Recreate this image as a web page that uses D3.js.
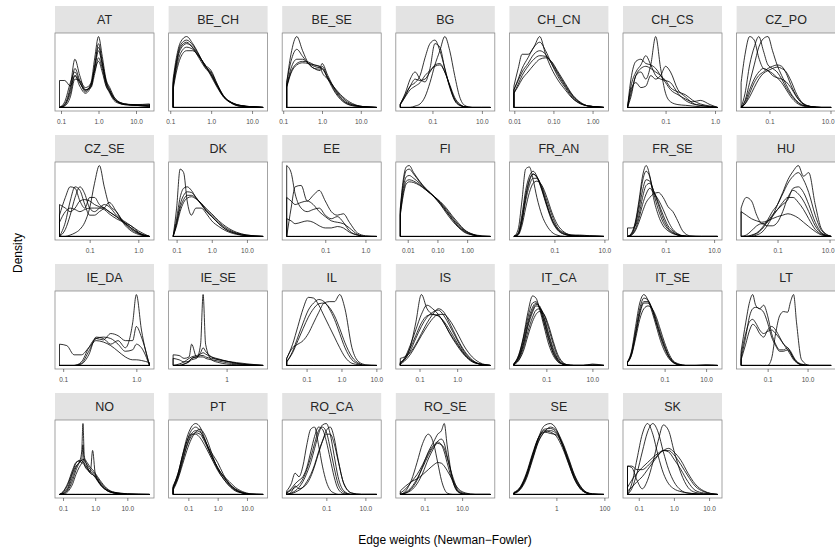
<!DOCTYPE html>
<html>
<head>
<meta charset="utf-8">
<script src="https://cdn.jsdelivr.net/npm/d3@7"></script>
<style>
  body { margin: 0; background: #fff; }
  text { font-family: "Liberation Sans", Arial, sans-serif; }
</style>
</head>
<body>
<div id="chart"></div>
<script>
// facet names, in panel order
const panelNames = ['AT','BE_CH','BE_SE','BG','CH_CN','CH_CS','CZ_PO',
  'CZ_SE','DK','EE','FI','FR_AN','FR_SE','HU',
  'IE_DA','IE_SE','IL','IS','IT_CA','IT_SE','LT',
  'NO','PT','RO_CA','RO_SE','SE','SK'];

// data range of each panel, log10 of the edge weight
const xLimits = [[-1.04,1.36],[-0.93,1.27],[-0.91,1.41],[-2.3,1.34],[-2.01,0.29],[-1.77,0.05],[-1.93,1.02],
  [-1.62,0.23],[-1.1,1.46],[-1.96,0.28],[-2.25,0.78],[-2.62,0.98],[-2.57,1.14],[-2.4,1.06],
  [-1.05,0.18],[-1.07,0.73],[-1.57,1.01],[-1.51,0.88],[-2.41,1.5],[-2.79,1.55],[-2.33,2.18],
  [-1.11,1.69],[-1.52,1.55],[-3.03,1.58],[-2.29,2.5],[-1.77,1.98],[-1.32,1.24]];

// axis ticks (log10) and their labels
const tickValues = [[-1,0,1],[-1,0,1],[-1,0,1],[-1,1],[-2,-1,0],[-1,0],[-1,1],
  [-1,0],[-1,0,1],[-1,0],[-2,-1,0],[-1,1],[-1,1],[-1,1],
  [-1,0],[0],[-1,0,1],[-1,0],[-1,1],[-1,1],[-1,1],
  [-1,0,1],[-1,0,1],[-1,1],[-1,1],[0,2],[-1,0,1]];
const tickLabels = [['0.1','1.0','10.0'],['0.1','1.0','10.0'],['0.1','1.0','10.0'],['0.1','10.0'],['0.01','0.10','1.00'],['0.1','1.0'],['0.1','10.0'],
  ['0.1','1.0'],['0.1','1.0','10.0'],['0.1','1.0'],['0.01','0.10','1.00'],['0.1','10.0'],['0.1','10.0'],['0.1','10.0'],
  ['0.1','1.0'],['1'],['0.1','1.0','10.0'],['0.1','1.0'],['0.1','10.0'],['0.1','10.0'],['0.1','10.0'],
  ['0.1','1.0','10.0'],['0.1','1.0','10.0'],['0.1','10.0'],['0.1','10.0'],['1','100'],['0.1','1.0','10.0']];

// positions (log10) where the density curves were read
const xGrid = [
  [-1.04,-0.9,-0.75,-0.63,-0.5,-0.35,-0.2,-0.1,0,0.1,0.2,0.3,0.45,0.7,1.0,1.36],
  [-0.93,-0.85,-0.75,-0.6,-0.45,-0.3,-0.15,0,0.15,0.3,0.5,0.7,1.0,1.27],
  [-0.91,-0.8,-0.65,-0.5,-0.35,-0.2,-0.05,0,0.15,0.35,0.6,0.85,1.1,1.41],
  [-2.3,-2.1,-1.9,-1.7,-1.5,-1.3,-1.1,-0.9,-0.7,-0.5,-0.3,-0.1,0.1,0.3,0.6,1.0,1.34],
  [-2.01,-1.9,-1.8,-1.65,-1.5,-1.35,-1.2,-1.05,-0.9,-0.7,-0.5,-0.3,-0.1,0.1,0.29],
  [-1.77,-1.7,-1.6,-1.5,-1.4,-1.3,-1.2,-1.1,-1.0,-0.9,-0.75,-0.6,-0.45,-0.3,-0.1,0.05],
  [-1.93,-1.8,-1.65,-1.5,-1.35,-1.2,-1.05,-0.9,-0.75,-0.6,-0.45,-0.3,-0.1,0.1,0.4,0.7,1.02],
  [-1.62,-1.5,-1.4,-1.3,-1.2,-1.1,-1.0,-0.9,-0.8,-0.7,-0.6,-0.45,-0.3,-0.15,0,0.23],
  [-1.1,-1.0,-0.9,-0.8,-0.7,-0.58,-0.45,-0.3,-0.15,0,0.2,0.4,0.7,1.0,1.46],
  [-1.96,-1.85,-1.75,-1.6,-1.45,-1.3,-1.15,-1.0,-0.85,-0.7,-0.55,-0.4,-0.2,0,0.28],
  [-2.25,-2.15,-2.05,-1.95,-1.8,-1.6,-1.4,-1.25,-1.1,-0.9,-0.7,-0.5,-0.3,-0.1,0.2,0.5,0.78],
  [-2.62,-2.45,-2.3,-2.15,-2.0,-1.85,-1.7,-1.5,-1.3,-1.1,-0.9,-0.6,-0.3,0,0.4,0.98],
  [-2.57,-2.4,-2.25,-2.1,-1.95,-1.8,-1.65,-1.5,-1.3,-1.1,-0.9,-0.7,-0.5,-0.3,0,0.5,1.14],
  [-2.4,-2.2,-2.0,-1.8,-1.6,-1.4,-1.2,-1.0,-0.8,-0.6,-0.4,-0.2,0,0.2,0.45,0.7,1.06],
  [-1.05,-0.95,-0.85,-0.75,-0.65,-0.55,-0.45,-0.35,-0.25,-0.15,-0.05,0,0.07,0.18],
  [-1.07,-0.95,-0.85,-0.75,-0.7,-0.6,-0.52,-0.47,-0.42,-0.3,-0.15,0,0.2,0.45,0.73],
  [-1.57,-1.4,-1.25,-1.1,-0.95,-0.8,-0.65,-0.5,-0.35,-0.2,-0.05,0.1,0.3,0.5,0.7,1.01],
  [-1.51,-1.4,-1.25,-1.1,-0.95,-0.8,-0.65,-0.5,-0.35,-0.2,0,0.2,0.4,0.6,0.88],
  [-2.41,-2.2,-2.0,-1.8,-1.6,-1.45,-1.3,-1.1,-0.9,-0.7,-0.5,-0.3,-0.1,0.2,0.6,1.0,1.5],
  [-2.79,-2.6,-2.4,-2.2,-2.0,-1.8,-1.6,-1.4,-1.2,-1.0,-0.8,-0.6,-0.3,0,0.5,1.0,1.55],
  [-2.33,-2.1,-1.9,-1.75,-1.6,-1.4,-1.2,-1.0,-0.8,-0.6,-0.4,-0.2,0,0.15,0.3,0.45,0.7,1.1,2.18],
  [-1.11,-1.0,-0.85,-0.7,-0.6,-0.5,-0.42,-0.38,-0.34,-0.25,-0.15,-0.08,0,0.15,0.35,0.6,1.0,1.69],
  [-1.52,-1.35,-1.2,-1.05,-0.9,-0.75,-0.6,-0.45,-0.3,-0.15,0,0.2,0.4,0.6,0.85,1.1,1.55],
  [-3.03,-2.8,-2.6,-2.4,-2.2,-2.0,-1.8,-1.6,-1.4,-1.2,-1.0,-0.8,-0.6,-0.4,-0.1,0.3,0.8,1.58],
  [-2.29,-2.0,-1.7,-1.4,-1.1,-0.8,-0.5,-0.3,-0.1,0.05,0.2,0.5,0.8,1.2,1.7,2.5],
  [-1.77,-1.5,-1.25,-1.0,-0.75,-0.5,-0.25,0,0.25,0.5,0.75,1.0,1.25,1.5,1.98],
  [-1.32,-1.2,-1.05,-0.9,-0.75,-0.6,-0.45,-0.3,-0.15,0,0.2,0.4,0.6,0.85,1.24]
];

// density curves per panel, relative height (100 = tallest curve in the panel)
const densities = [
  [[0,3,25,55,38,22,35,70,100,72,40,28,12,4,4,2],[0,5,30,68,45,25,30,60,90,65,38,25,10,4,3,3],[0,8,35,50,35,24,32,55,80,60,35,22,10,5,4,5],
   [38,38,30,45,35,25,28,48,70,55,32,20,8,4,3,1],[0,2,15,40,38,28,34,52,65,50,30,22,10,5,3,4],[0,4,20,45,30,20,30,58,85,62,36,24,12,5,3,2]],
  [[40,70,92,100,90,75,58,48,30,15,6,2,1,0],[35,65,88,95,88,74,58,50,32,16,6,2,1,0],[30,60,82,90,85,73,60,52,33,17,7,3,1,0],
   [28,55,76,85,82,72,60,46,30,16,7,3,1,0],[25,50,70,80,80,72,60,44,28,15,7,3,1,0],[33,62,85,92,84,70,56,46,31,16,6,2,1,0]],
  [[35,75,100,80,62,55,52,55,40,20,6,2,1,0],[35,65,82,72,62,55,54,58,42,22,7,2,1,0],[30,55,68,68,62,58,56,62,45,24,8,3,1,0],
   [30,50,62,65,64,60,57,55,42,25,10,3,1,0],[28,48,60,63,62,60,58,50,40,26,12,4,1,0]],
  [[5,20,40,50,40,36,55,90,85,55,30,10,3,1,0,0,0],[5,18,30,35,45,70,90,95,80,55,28,10,3,1,0,0,0],[0,0,0,2,5,15,35,60,80,100,80,45,15,3,0,0,0],
   [4,15,25,30,35,45,52,58,60,50,30,12,4,1,0,0,0],[4,16,30,40,38,40,50,60,62,50,32,14,5,1,0,0,0]],
  [[30,55,75,75,85,100,75,55,40,25,12,5,2,1,0],[25,40,55,70,85,92,80,62,45,28,13,5,2,1,0],[25,38,50,62,75,80,75,62,48,30,15,6,2,1,0],
   [20,33,45,58,68,73,72,64,50,32,16,6,2,1,0],[20,30,40,50,60,68,70,65,52,34,17,7,2,1,0]],
  [[0,15,45,50,40,60,100,55,20,8,4,3,2,1,0,0],[0,30,50,60,73,60,45,40,38,35,20,10,5,3,1,0],[0,25,35,28,30,45,40,45,58,50,25,15,6,3,1,0],
   [0,40,65,68,62,60,55,45,35,25,18,12,8,10,4,0],[0,20,45,55,58,55,50,45,38,28,22,18,10,5,2,0]],
  [[35,75,100,95,70,55,52,48,42,35,25,15,6,2,0,0,0],[0,20,60,85,100,80,60,55,50,40,28,18,8,3,1,0,0],[0,10,35,60,85,97,100,80,60,45,32,20,9,3,1,0,0],
   [0,5,20,35,45,50,55,58,60,58,48,32,15,5,1,0,0],[0,5,15,28,40,48,52,55,57,55,50,38,18,6,1,0,0],[0,8,25,40,50,55,52,45,42,40,36,28,14,5,1,0,0]],
  [[0,0,2,5,10,20,40,75,100,70,45,35,20,10,4,0],[30,55,70,68,50,40,55,55,45,40,35,28,20,12,5,0],[0,20,50,70,65,45,30,30,35,40,48,35,18,8,3,0],
   [45,40,35,40,50,52,50,45,42,40,35,28,20,12,5,0],[0,10,30,55,70,60,40,35,40,45,42,30,22,15,6,0],[20,35,40,38,35,38,40,40,40,38,32,25,20,15,8,0]],
  [[0,40,95,90,50,30,40,40,32,22,14,8,3,1,0],[0,25,55,68,70,65,55,45,35,28,18,10,4,1,0],[0,20,45,58,63,62,55,46,36,28,18,10,4,1,0],
   [0,18,40,52,58,58,54,46,37,30,20,12,5,2,0],[0,15,35,48,54,56,53,47,39,32,22,14,6,2,0]],
  [[100,90,60,40,35,38,40,30,25,28,20,8,2,0,0],[0,40,70,72,50,58,65,50,35,30,32,20,5,1,0],[55,50,45,48,50,45,35,28,22,20,18,12,3,0,0],
   [25,22,18,20,22,20,15,12,12,14,12,6,2,0,0]],
  [[40,80,98,100,90,78,68,62,55,45,33,22,13,6,2,0,0],[38,75,93,95,88,77,67,61,55,46,35,24,14,7,2,0,0],[35,68,84,86,82,75,67,62,56,47,36,25,15,8,2,0,0],
   [32,62,78,80,78,73,66,61,56,48,38,27,17,9,3,0,0],[30,58,74,77,76,72,66,61,56,49,40,29,19,10,3,1,0]],
  [[0,10,50,95,98,80,55,30,15,6,2,0,0,0,0,0],[0,5,30,65,85,92,85,65,42,22,10,3,1,0,0,0],[0,4,25,58,80,88,84,68,45,25,12,4,1,1,1,0],
   [0,3,20,50,72,82,82,70,50,30,14,5,2,1,0,0],[0,2,15,40,62,75,78,72,55,34,18,6,2,2,1,0],[0,3,22,55,78,88,83,66,44,24,11,3,1,0,0,0]],
  [[0,5,20,50,85,100,85,55,30,15,8,4,2,0,0,0,0],[0,4,18,45,78,92,84,62,38,20,10,5,2,1,0,0,0],[0,3,15,38,65,80,78,65,45,25,12,6,2,1,0,0,0],
   [0,2,8,20,35,48,55,60,62,55,42,35,22,8,1,0,0],[12,12,15,30,55,72,75,65,48,30,15,8,3,1,0,0,0],[0,2,10,25,45,60,68,62,52,38,22,10,4,1,0,0,0]],
  [[40,55,50,30,18,20,28,38,48,55,55,48,38,25,10,3,0],[0,0,2,5,12,22,35,45,60,75,85,90,80,62,30,8,0],[0,0,0,2,6,15,28,45,62,80,92,100,85,90,45,10,0],
   [0,0,1,4,10,20,30,38,45,52,68,70,62,45,20,5,0],[35,30,25,22,20,22,25,28,30,32,30,26,20,14,7,2,0],[0,2,8,15,18,15,15,20,35,55,65,60,50,35,15,4,0]],
  [[30,28,15,15,25,35,33,28,20,12,8,8,7,4],[0,0,0,2,15,40,38,30,35,25,60,100,50,0],[0,0,0,5,25,38,36,45,42,35,35,55,40,0],
   [0,0,0,3,20,38,40,38,30,20,22,30,25,0]],
  [[0,0,2,5,8,10,30,100,30,8,4,2,1,0,0],[15,14,10,12,30,12,18,25,20,12,8,6,3,1,0],[0,2,5,10,12,14,16,18,16,12,9,6,3,1,0],
   [10,8,5,6,10,12,14,14,12,10,8,6,4,2,0],[0,0,2,6,10,12,12,12,10,8,6,4,2,1,0]],
  [[10,30,55,80,96,95,85,70,55,40,25,12,3,1,0,0],[5,20,40,60,78,88,93,90,80,65,45,25,8,2,0,0],[10,25,30,35,45,60,75,88,90,90,100,80,25,5,1,0],
   [5,18,35,52,68,80,87,88,82,70,52,32,12,3,0,0]],
  [[5,8,25,60,100,80,72,70,60,45,28,14,5,2,0],[3,10,28,50,72,85,80,72,60,46,30,15,6,2,0],[2,8,20,38,55,68,75,78,70,56,36,18,7,2,0],
   [10,12,18,30,45,60,72,80,75,60,38,20,8,2,0],[2,6,15,28,42,55,66,72,72,64,46,26,12,4,0],[3,10,24,42,60,70,72,70,62,50,32,16,6,2,0]],
  [[2,15,40,75,98,95,80,55,30,14,5,2,0,0,0,2,0],[2,12,34,62,82,88,82,62,38,18,7,2,0,0,0,0,0],[2,10,28,55,75,84,82,68,45,24,9,3,1,0,0,0,0],
   [2,8,24,48,68,78,80,72,52,30,12,4,1,0,0,1,0],[3,14,38,68,88,90,82,60,36,17,6,2,0,0,0,0,0],[1,7,20,42,62,72,76,72,56,34,15,5,1,0,0,0,0],
   [2,11,30,58,78,86,84,66,42,21,8,2,0,0,0,0,0]],
  [[5,20,55,88,100,92,75,55,35,20,10,4,1,0,0,0,0],[5,18,48,80,95,92,80,60,40,24,12,5,1,0,0,0,0],[4,15,42,72,88,88,80,64,45,28,14,6,1,0,0,0,0],
   [4,14,38,65,80,84,80,68,50,32,17,7,2,0,0,1,0],[5,16,45,75,90,90,78,60,42,26,13,5,1,0,0,0,0]],
  [[20,60,90,100,85,80,85,70,45,30,22,22,25,18,10,5,1,0,0],[10,40,70,80,82,80,75,60,40,28,20,20,22,18,10,5,1,0,0],[15,45,62,65,60,50,45,48,50,45,38,30,25,20,12,6,2,0,0],
   [8,30,50,58,55,45,40,50,55,50,40,30,22,15,8,4,1,0,0],[0,0,0,0,0,0,0,0,10,45,70,76,75,90,100,60,8,0,0]],
  [[0,2,10,30,40,45,60,100,55,40,30,28,25,15,6,2,0,0],[0,1,8,25,38,45,48,70,42,35,32,62,30,15,6,2,0,0],[0,3,14,32,44,48,48,46,44,38,32,30,26,16,7,2,0,0],
   [0,1,6,20,34,44,48,50,48,42,35,32,28,18,8,3,1,0],[0,4,16,35,45,47,45,44,42,36,30,28,24,14,6,2,0,0],[0,0,4,15,28,38,44,48,50,45,38,35,30,20,9,3,1,0]],
  [[10,30,55,80,95,100,95,80,62,50,38,25,14,7,2,0,0],[10,28,52,75,90,95,90,78,65,55,45,28,15,7,2,0,0],[8,26,48,70,85,90,88,78,64,50,38,25,15,8,3,1,0],
   [8,24,46,68,82,87,85,75,62,48,36,26,18,10,4,1,0],[12,30,55,75,85,85,80,70,58,46,34,22,12,6,2,0,0],[6,22,42,62,78,88,92,85,70,52,36,22,12,5,2,0,0]],
  [[5,15,30,25,40,70,92,95,70,40,18,6,2,0,0,0,0,0],[3,8,15,20,25,38,60,82,95,92,75,50,25,8,1,0,0,0],[0,2,5,10,18,30,45,65,85,98,100,85,55,25,5,0,0,0],
   [0,1,3,6,10,18,28,42,60,75,85,85,72,48,15,2,0,0],[2,6,10,14,22,35,52,72,90,95,88,65,38,15,3,0,0,0],[0,3,12,8,10,15,25,40,58,75,90,95,80,50,15,2,0,0]],
  [[0,5,20,45,72,85,70,45,20,8,2,0,0,0,0,0],[0,2,8,20,40,60,75,85,90,100,70,20,3,0,0,0],[2,8,18,28,42,58,70,74,70,60,45,18,4,0,0,0],
   [0,3,10,22,38,55,68,72,70,65,52,25,6,1,0,0],[5,12,18,22,28,35,42,45,44,40,34,20,8,2,0,0],[0,2,6,15,30,50,66,75,78,72,55,22,4,0,0,0]],
  [[2,10,28,55,80,97,100,92,70,45,22,8,2,0,0],[2,9,26,52,78,92,93,88,70,47,24,9,2,0,0],[3,11,30,57,80,88,86,84,70,48,25,10,3,0,0],
   [2,8,24,50,75,88,90,86,72,50,27,11,3,1,0],[2,9,27,54,79,90,88,82,66,44,22,8,2,0,0],[1,7,22,48,74,88,95,90,74,52,28,12,3,1,0]],
  [[0,15,50,85,100,85,55,30,15,8,4,2,1,0,0],[0,8,30,60,88,100,88,60,35,18,6,2,1,0,0],[40,38,20,8,20,45,75,98,90,62,30,10,3,1,0],
   [40,40,35,35,40,48,56,62,65,60,48,30,15,5,0],[10,20,30,38,45,52,58,62,62,56,42,26,12,4,0],[5,10,18,25,35,45,55,62,60,50,35,18,6,2,0]]
];

const width = 835, height = 556;
const nCols = 7;
const left0 = 55, colStep = 113.6, panelW = 99;
const top0 = 6, rowStep = 129, stripH = 27, plotH = 78;

const svg = d3.select('#chart').append('svg')
  .attr('width', width)
  .attr('height', height);

panelNames.forEach((name, i) => {
  const col = i % nCols, row = Math.floor(i / nCols);
  const px = left0 + col * colStep;
  const py = top0 + row * rowStep;
  const g = svg.append('g').attr('transform', `translate(${px},${py})`);

  // strip
  g.append('rect')
    .attr('width', panelW).attr('height', stripH)
    .attr('fill', '#e3e3e3');
  g.append('text')
    .attr('x', panelW / 2).attr('y', stripH / 2 + 4.5)
    .attr('text-anchor', 'middle')
    .attr('font-size', 12.5)
    .attr('fill', '#262626')
    .text(name);

  const [lo, hi] = xLimits[i];
  const pad = (hi - lo) * 0.05;
  const x = d3.scaleLinear().domain([lo - pad, hi + pad]).range([0, panelW]);
  const y = d3.scaleLinear().domain([-5, 105]).range([stripH + plotH, stripH]);

  // panel background + border
  g.append('rect')
    .attr('y', stripH)
    .attr('width', panelW).attr('height', plotH)
    .attr('fill', '#fff')
    .attr('stroke', '#8c8c8c')
    .attr('stroke-width', 0.8);

  // density outlines (closed to the baseline like ggplot's geom_density)
  const area = d3.area()
    .x(d => x(d[0]))
    .y0(y(0))
    .y1(d => y(d[1]))
    .curve(d3.curveMonotoneX);

  densities[i].forEach(curve => {
    const pts = curve.map((v, k) => [xGrid[i][k], v]);
    g.append('path')
      .attr('d', area(pts))
      .attr('fill', 'none')
      .attr('stroke', '#000')
      .attr('stroke-width', 0.8);
  });

  // x axis
  const axis = d3.axisBottom(x)
    .tickValues(tickValues[i])
    .tickFormat((d, k) => tickLabels[i][k])
    .tickSize(3)
    .tickPadding(5)
    .tickSizeOuter(0);
  const ax = g.append('g')
    .attr('transform', `translate(0,${stripH + plotH})`)
    .call(axis);
  ax.select('.domain').remove();
  ax.selectAll('line').attr('stroke', '#333').attr('stroke-width', 0.6);
  ax.selectAll('text')
    .attr('font-size', 6.5)
    .attr('fill', '#4d4d4d')
    .attr('font-family', '"Liberation Sans", Arial, sans-serif')
    .each(function (d) {
      // keep labels inside the page on the right edge
      const w = this.getComputedTextLength();
      const over = px + x(d) + w / 2 - (width - 1);
      if (over > 0) d3.select(this).attr('x', -over);
    });
});

// axis titles
svg.append('text')
  .attr('transform', `translate(22,253) rotate(-90)`)
  .attr('text-anchor', 'middle')
  .attr('font-size', 12)
  .attr('fill', '#000')
  .text('Density');

svg.append('text')
  .attr('x', 445).attr('y', 544)
  .attr('text-anchor', 'middle')
  .attr('font-size', 12)
  .attr('fill', '#000')
  .text('Edge weights (Newman\u2212Fowler)');
</script>
</body>
</html>
